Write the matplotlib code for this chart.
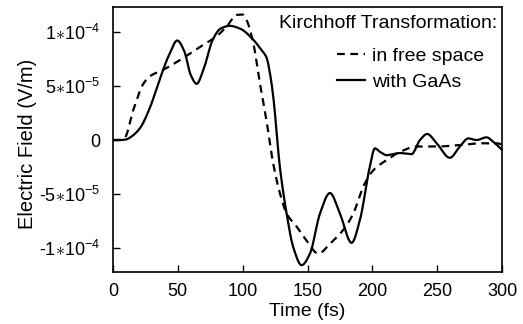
import numpy as np
import matplotlib
matplotlib.use("Agg")
import matplotlib.pyplot as plt

plt.rcParams['font.family'] = ['Liberation Sans', 'DejaVu Sans']
plt.rcParams['mathtext.fontset'] = 'custom'
plt.rcParams['mathtext.rm'] = 'Liberation Sans'
plt.rcParams['mathtext.it'] = 'Liberation Sans'

# Solid: with GaAs (time fs, field in 1e-4 V/m)
t_gaas = [0, 5, 10, 14, 20.8, 28.5, 36, 43, 49.6, 55, 60, 64.5, 70, 77, 83, 90, 98, 108, 114, 118.5,
          121, 123.6, 128.7, 133.9, 139, 145.5, 151.9, 159.6, 167.3, 175, 184, 190.4, 198, 202,
          205.9, 211, 216, 221, 230.3, 236.7, 242.3, 249.6, 259.8, 267.5, 274, 280.4, 288.1,
          293.2, 300]
e_gaas = [0, 0, 0.005, 0.03, 0.11, 0.3, 0.56, 0.78, 0.92, 0.82, 0.6, 0.52, 0.66, 0.93, 1.03, 1.056, 1.03,
          0.93, 0.84, 0.76, 0.62, 0.40, -0.25, -0.68, -0.99, -1.157, -1.05, -0.68, -0.49, -0.68,
          -0.95, -0.74, -0.25, -0.077, -0.11, -0.14, -0.13, -0.12, -0.13, 0.0, 0.056, -0.03,
          -0.164, -0.06, 0.015, 0.0, 0.025, -0.016, -0.09]

# Dashed: in free space
t_free = [0, 5, 9, 15.7, 23.4, 28.5, 38.8, 51.7, 67, 80, 87.7, 95.4, 100, 103, 108.2, 113.3,
          118.5, 123.6, 128.7, 133.9, 141.6, 149.3, 158.3, 167.3, 177.6, 185.3, 193, 200.7,
          211, 221.3, 234.2, 249.6, 267.5, 282.9, 295.8, 300]
e_free = [0, 0, 0.02, 0.28, 0.52, 0.59, 0.65, 0.74, 0.86, 0.96, 1.05, 1.157, 1.16, 1.11, 0.895, 0.525,
          0.17, -0.22, -0.49, -0.68, -0.80, -0.93, -1.05, -0.96, -0.83, -0.68, -0.43, -0.28,
          -0.185, -0.11, -0.06, -0.06, -0.046, -0.03, -0.03, -0.04]

xticks = [0, 50, 100, 150, 200, 250, 300]
yticks = [-1e-4, -5e-5, 0, 5e-5, 1e-4]
ytick_labels = ['-1$\\ast$10$^{-4}$', '-5$\\ast$10$^{-5}$', '0', '5$\\ast$10$^{-5}$', '1$\\ast$10$^{-4}$']

def smooth(tk, ek):
    tk = np.asarray(tk, float); ek = np.asarray(ek, float)
    tt = np.linspace(tk[0], tk[-1], 1200)
    h = np.diff(tk); d = np.diff(ek) / h
    m = np.zeros_like(ek)
    m[0] = d[0]; m[-1] = d[-1]
    for i in range(1, len(ek) - 1):
        if d[i-1] * d[i] <= 0:
            m[i] = 0
        else:
            w1 = 2*h[i] + h[i-1]; w2 = h[i] + 2*h[i-1]
            m[i] = (w1 + w2) / (w1/d[i-1] + w2/d[i])
    idx = np.clip(np.searchsorted(tk, tt) - 1, 0, len(tk) - 2)
    s = (tt - tk[idx]) / h[idx]
    h00 = 2*s**3 - 3*s**2 + 1; h10 = s**3 - 2*s**2 + s
    h01 = -2*s**3 + 3*s**2; h11 = s**3 - s**2
    ee = h00*ek[idx] + h10*h[idx]*m[idx] + h01*ek[idx+1] + h11*h[idx]*m[idx+1]
    return tt, ee

W, H = 523, 324
fig = plt.figure(figsize=(W/100, H/100), dpi=100)
L, R, T, B = 113, 502, 7, 272
ax = fig.add_axes([L/W, 1 - B/H, (R-L)/W, (B-T)/H])

tf, ef = smooth(t_free, e_free)
tg, eg = smooth(t_gaas, e_gaas)
ax.plot(tf, ef * 1e-4, color='black', lw=1.6, linestyle=(0, (3.5, 2.5)), label='in free space')
ax.plot(tg, eg * 1e-4, color='black', lw=1.6, label='with GaAs')

ax.set_xlim(0, 300)
ax.set_ylim(-1.22e-4, 1.23e-4)
ax.set_xticks(xticks)
ax.set_yticks(yticks)
ax.set_yticklabels(ytick_labels)
ax.tick_params(direction='in', labelsize=13, length=5, width=1)
ax.tick_params(axis='x', pad=8)
ax.tick_params(axis='y', pad=9)
for sp in ax.spines.values():
    sp.set_linewidth(1.2)
ax.set_xlabel('Time (fs)', fontsize=14, labelpad=2)
ax.set_ylabel('Electric Field (V/m)', fontsize=14.5, labelpad=2)
ax.yaxis.label.set_y(0.5 - 4.5/(B - T))

ax.text((497 - L)/(R - L), (B - 24)/(B - T), 'Kirchhoff Transformation:', transform=ax.transAxes,
        ha='right', va='center', fontsize=14)
leg = ax.legend(loc='upper left', bbox_to_anchor=((337 - L)/(R - L), (B - 47)/(B - T)),
                frameon=False, fontsize=14, handlelength=1.45, handletextpad=0.36,
                borderpad=0, borderaxespad=0, labelspacing=0.45)

fig.savefig('out.png', dpi=100)
